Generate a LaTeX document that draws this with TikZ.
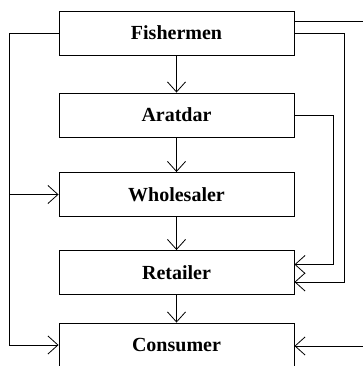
\documentclass[tikz,border=0pt]{standalone}
\usepackage{fontspec}
\setmainfont{Liberation Serif}
\usetikzlibrary{arrows.meta}

\begin{document}
\begin{tikzpicture}[x=1pt, y=-1pt, font=\fontsize{20}{24}\selectfont\bfseries,
    box/.style={draw, line width=0.9pt, minimum width=235pt, minimum height=44pt, inner sep=0pt},
    flow/.style={line width=0.8pt, -{Straight Barb[length=10pt,width=18pt]}}]
        \clip (0,0) rectangle (363,366);
        
        \node[box] (fish) at (176.5,33) {Fishermen};
        \node[box] (arat) at (176.5,115) {Aratdar};
        \node[box] (whole) at (176.5,194.5) {Wholesaler};
        \node[box] (retail) at (176.5,272.5) {Retailer};
        \node[box] (cons) at (176.5,345) {Consumer};
        
        \draw[flow] (fish) -- (arat);
        \draw[flow] (arat) -- (whole);
        \draw[flow] (whole) -- (retail);
        \draw[flow] (retail) -- (cons);
        
        % left side
        \draw[flow] (fish.west) -- ++(-49,0) |- (whole.west);
        \draw[flow] (fish.west) -- ++(-49,0) |- (cons.west);
        
        % right side
        \coordinate (outtop) at (375,21);
        \coordinate (outbot) at (375,346);
        \draw[line width=0.8pt] ([yshift=12pt]fish.east) -- (outtop);
        \draw[flow] (outbot) -- (cons.east |- outbot);
        \draw[flow] (fish.east) -- (344,33) |- ([yshift=-9.5pt]retail.east);
        \draw[flow] (arat.east) -- (333,115) |- ([yshift=8pt]retail.east);
\end{tikzpicture}
\end{document}
